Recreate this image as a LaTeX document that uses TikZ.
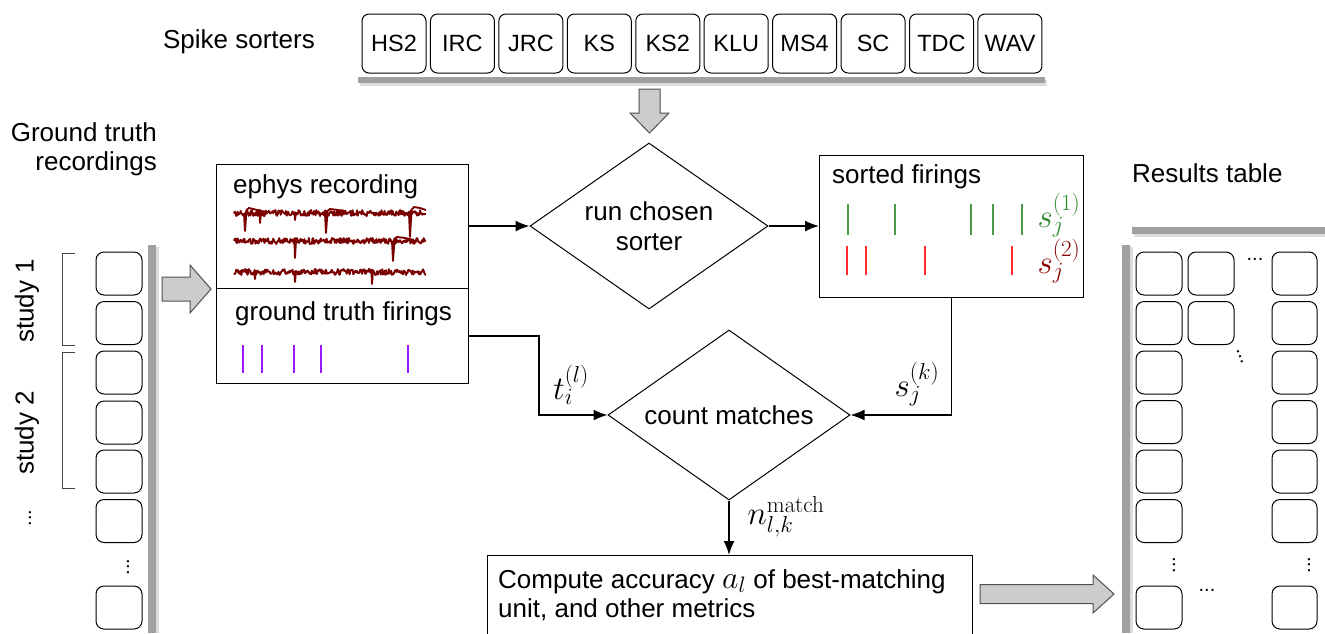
\RequirePackage{fix-cm}
\documentclass[tikz,border=0pt]{standalone}
\usepackage[no-math]{fontspec}
\setmainfont{Liberation Sans}
\usetikzlibrary{shapes.geometric,arrows.meta,calc}
\definecolor{barg}{HTML}{A0A0A0}
\definecolor{shadowg}{HTML}{DCDCDC}
\definecolor{arrfill}{HTML}{CCCCCC}
\definecolor{arredge}{HTML}{505050}
\definecolor{tracec}{HTML}{7A0000}
\definecolor{gtc}{HTML}{9A1AFF}
\definecolor{s1c}{HTML}{2E8B2E}
\definecolor{s1tick}{HTML}{4A9A4A}
\definecolor{s2tick}{HTML}{FF2A2A}
\definecolor{s2c}{HTML}{8B0000}
\definecolor{brk}{HTML}{444444}
\begin{document}
\begin{tikzpicture}[x=1pt,y=-1pt,
  txt/.style={font=\fontsize{26}{31}\selectfont, inner sep=0pt},
  sorterbox/.style={draw, line width=1pt, rounded corners=7pt, minimum width=64pt, minimum height=59pt, inner sep=0pt, font=\fontsize{23.5}{27}\selectfont},
  cell/.style={draw, line width=1pt, rounded corners=8pt, minimum width=46pt, minimum height=43pt, inner sep=0pt},
  panel/.style={draw, line width=1pt, inner sep=0pt},
  decision/.style={draw, line width=1pt, shape=diamond, aspect=1.43, inner sep=0pt, align=center, font=\fontsize{26}{30}\selectfont},
  conn/.style={line width=1.6pt, -{Latex[length=14pt,width=11pt]}},
  bar/.style={fill=barg},
  barshadow/.style={fill=shadowg},
  fatarrow/.style={fill=arrfill, draw=arredge, line width=1pt, line join=miter},
  mathlbl/.style={font=\fontsize{33}{37}\selectfont, inner sep=0pt},
  trace/.style={draw=tracec, line width=1.9pt, line join=round},
  dots/.style={font=\fontsize{20}{24}\selectfont, inner sep=0pt},
  tick/.style={line width=1.2pt},
]
\useasboundingbox (0,0) rectangle (1325,633);
\fill[white] (0,0) rectangle (1325,633);
\clip (0,0) rectangle (1325,633);

% ---------- spike sorters ----------
\node[txt] (sstitle) at (239,42) {Spike sorters};
\foreach \lab [count=\i from 0] in {HS2,IRC,JRC,KS,KS2,KLU,MS4,SC,TDC,WAV}
  \node[sorterbox] (s\i) at ({394+68.44*\i},43.5) {\lab};
\fill[barshadow] (360,80) rectangle (1047,86);
\fill[bar] (358,77) rectangle (1045,83);
\draw[fatarrow] (639,89) -- (660,89) -- (660,113) -- (669,113) -- (649.5,133) -- (630,113) -- (639,113) -- cycle;

% ---------- run chosen sorter ----------
\node[decision, minimum width=238pt, minimum height=166pt] (run) at (649,226) {run chosen\\sorter};

% ---------- ephys / ground truth panel ----------
\node[panel, anchor=north west, minimum width=252pt, minimum height=124pt] (ephys) at (216,164) {};
\node[panel, anchor=north west, minimum width=252pt, minimum height=95pt] (gt) at (216,288) {};
\node[txt, anchor=west] (ephyslbl) at (233,186.5) {ephys recording};
\node[txt, anchor=west] (gtlbl) at (235,314) {ground truth firings};

\pgfmathsetseed{7}
\draw[trace] plot[domain=234:426, samples=260, variable=\t] (\t, {213+3*rand});
\draw[trace] plot[domain=234:426, samples=260, variable=\t] (\t, {241+3*rand});
\draw[trace] plot[domain=234:426, samples=260, variable=\t] (\t, {272+3*rand});
% spikes trace 1
\draw[trace] (244,213) -- (245,231) -- (246.5,210) -- (249,208) -- (257,210) -- (266,212);
\draw[trace] (259.5,213) -- (260,223) -- (261,212);
\draw[trace] (294.5,213) -- (295,220) -- (296,212);
\draw[trace] (325,213) -- (326,233) -- (327.5,211) -- (330,209) -- (338,210) -- (346,212);
\draw[trace] (409,213) -- (410,237) -- (411.5,210) -- (414,207) -- (420,208) -- (426,210);
% spikes trace 2
\draw[trace] (294.5,241) -- (295,258) -- (296,240);
\draw[trace] (392,241) -- (393,261) -- (394.5,239) -- (397,237) -- (405,238) -- (414,240);
% spikes trace 3
\draw[trace] (254.5,272) -- (255,279) -- (256,271);
\draw[trace] (294.5,272) -- (295,282) -- (296,271);
\draw[trace] (371.5,272) -- (372,284) -- (373,271);

% ground-truth firings
\foreach \xx in {243,262,294,321,408}
  \draw[tick, draw=gtc] (\xx,345) -- (\xx,373);

% ---------- sorted firings ----------
\node[panel, anchor=north west, minimum width=264pt, minimum height=142pt] (sorted) at (819,155) {};
\node[txt, anchor=west] (sortedlbl) at (832,176.5) {sorted firings};
\foreach \xx in {848,895,971,993,1022}
  \draw[tick, draw=s1tick] (\xx,204) -- (\xx,235);
\foreach \xx in {847,866,925,1012}
  \draw[tick, draw=s2tick] (\xx,246) -- (\xx,275);
\node[mathlbl, text=s1c] (s1lbl) at (1059,215) {$s_j^{(1)}$};
\node[mathlbl, text=s2c] (s2lbl) at (1059,261) {$s_j^{(2)}$};

% ---------- count matches ----------
\node[decision, minimum width=242pt, minimum height=170pt] (count) at (729,415) {count matches};

% ---------- compute box ----------
\node[panel, anchor=north west, minimum width=485pt, minimum height=95pt] (compute) at (487,555) {};
\node[txt, anchor=base west] (comp1) at (498,588) {Compute accuracy {\fontsize{32}{36}\selectfont$a_l$} of best-matching};
\node[txt, anchor=base west] (comp2) at (498,617) {unit, and other metrics};

% ---------- connectors ----------
\draw[conn] (run.west -| ephys.east) -- (run.west);
\draw[conn] (run.east) -- (run.east -| sorted.west);
\draw[conn] (gt.east) -- ++(70,0) |- (count.west);
\draw[conn] (sorted.south) |- (count.east);
\draw[conn] (count.south) -- (count.south |- compute.north);
\node[mathlbl] (tlbl) at (571,385) {$t_i^{(l)}$};
\node[mathlbl] (slbl) at (917,384) {$s_j^{(k)}$};
\node[mathlbl] (nlbl) at (786,517) {$n_{l,k}^{\mathrm{match}}$};

% ---------- ground truth recordings ----------
\node[txt, anchor=base east] (gtr1) at (157,141) {Ground truth};
\node[txt, anchor=base east] (gtr2) at (157,170) {recordings};
\fill[barshadow] (156,247) rectangle (159,633);
\fill[bar] (148,245) rectangle (156,633);
\foreach \yy [count=\k] in {273.5,323,372.5,422.5,471.5,521,607.5}
  \node[cell] (L\k) at (119,\yy) {};
\node[dots, rotate=90] (Ldots) at (128,567) {...};
\draw[fatarrow] (162,277) -- (190,277) -- (190,265) -- (211,289) -- (190,313) -- (190,301) -- (162,301) -- cycle;
\draw[brk, line width=1pt] (75,253) -- (62,253) -- (62,345) -- (75,345);
\draw[brk, line width=1pt] (75,352) -- (62,352) -- (62,488) -- (75,488);
\node[txt, rotate=90] (st1) at (27,301) {study 1};
\node[txt, rotate=90] (st2) at (27,433) {study 2};
\node[dots, rotate=90] (stdots) at (30,518) {...};

% ---------- results table ----------
\node[txt, anchor=base west] (restitle) at (1132,182) {Results table};
\fill[barshadow] (1134,230) rectangle (1325,237);
\fill[bar] (1132,227) rectangle (1325,234);
\fill[barshadow] (1130,247) rectangle (1133,633);
\fill[bar] (1122,245) rectangle (1130,633);
\foreach \yy [count=\k] in {273.5,323,372.5,422,471.5,521,607.5}{
  \node[cell] (A\k) at (1159,\yy) {};
  \node[cell, minimum width=45pt] (C\k) at (1294.5,\yy) {};
}
\node[cell] (B1) at (1211,273.5) {};
\node[cell] (B2) at (1211,323) {};
\node[dots] (rdots1) at (1255,259) {...};
\node[dots, rotate=-70] (rdots2) at (1240,357) {...};
\node[dots, rotate=90] (rdots3) at (1174,565) {...};
\node[dots, rotate=90] (rdots4) at (1309,565) {...};
\node[dots] (rdots5) at (1207,590) {...};
\draw[fatarrow] (980,584.5) -- (1093,584.5) -- (1093,575) -- (1114,594) -- (1093,613) -- (1093,603.5) -- (980,603.5) -- cycle;
\end{tikzpicture}
\end{document}
